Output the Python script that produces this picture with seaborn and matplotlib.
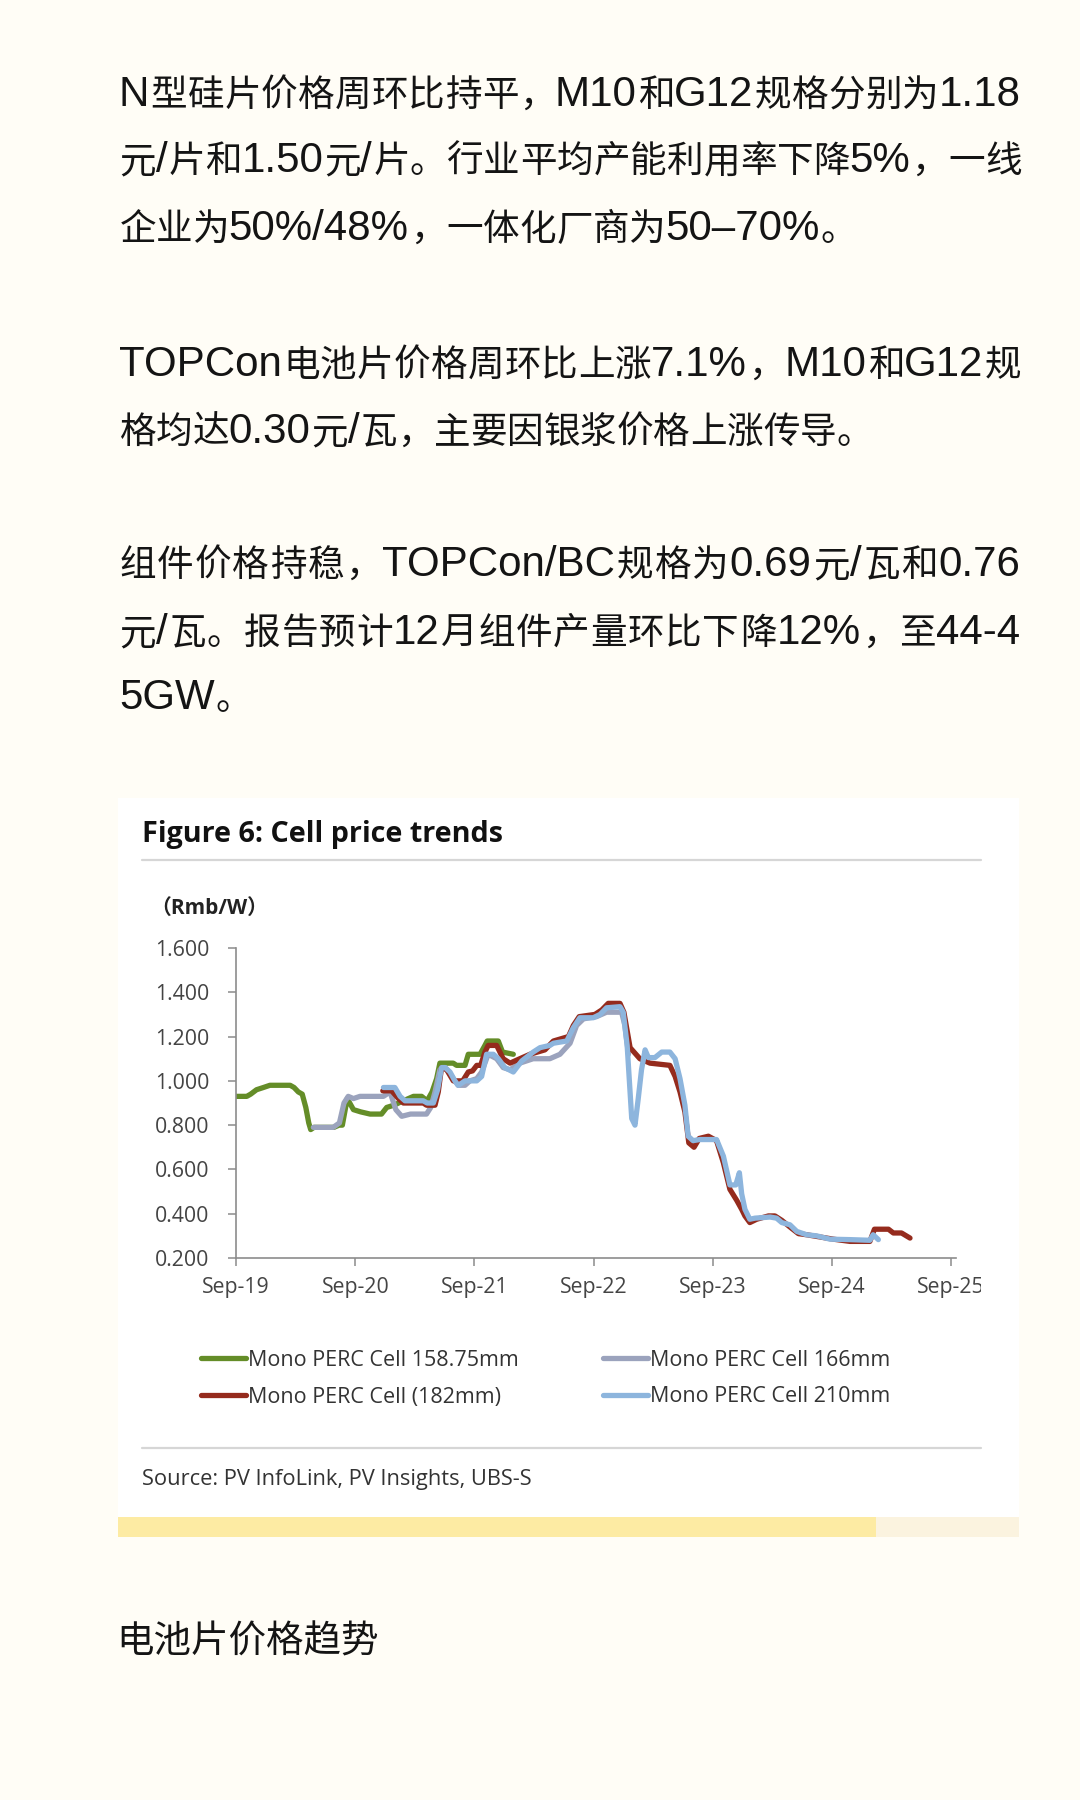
import numpy as np
import pandas as pd
import matplotlib
matplotlib.use("Agg")
import matplotlib.pyplot as plt
import matplotlib.dates as mdates
from matplotlib.patches import Rectangle
from matplotlib.lines import Line2D
from matplotlib.ticker import FormatStrFormatter
from matplotlib.transforms import Bbox, TransformedBbox
import seaborn as sns

# ---- article text (one entry per rendered line)
body_lines = [
    "N型硅片价格周环比持平，M10和G12规格分别为1.18",
    "元/片和1.50元/片。行业平均产能利用率下降5%，一线",
    "企业为50%/48%，一体化厂商为50–70%。",
    "TOPCon电池片价格周环比上涨7.1%，M10和G12规",
    "格均达0.30元/瓦，主要因银浆价格上涨传导。",
    "组件价格持稳，TOPCon/BC规格为0.69元/瓦和0.76",
    "元/瓦。报告预计12月组件产量环比下降12%，至44-4",
    "5GW。",
]
para_last = [False, False, True, False, True, False, False, True]
heading = "电池片价格趋势"
chart_title = "Figure 6: Cell price trends"
unit_label = "（Rmb/W）"
source_text = "Source: PV InfoLink, PV Insights, UBS-S"

# ---- series (Rmb/W)
green_dates = ["2019-09-01", "2019-10-04", "2019-10-16", "2019-11-03", "2019-11-24", "2019-12-14",
               "2020-02-14", "2020-02-26", "2020-03-10", "2020-03-22", "2020-04-02", "2020-04-11",
               "2020-04-17", "2020-04-27", "2020-06-27", "2020-07-13", "2020-07-23", "2020-08-07",
               "2020-08-26", "2020-09-17", "2020-10-16", "2020-11-20", "2020-12-06", "2020-12-28",
               "2021-01-26", "2021-02-26", "2021-03-23", "2021-04-09", "2021-04-24", "2021-05-08",
               "2021-05-18", "2021-06-28", "2021-07-08", "2021-08-03", "2021-08-13", "2021-09-18",
               "2021-10-03", "2021-10-10", "2021-11-13", "2021-11-26", "2021-12-29"]
green_vals = [0.93, 0.93, 0.94, 0.96, 0.97, 0.98,
              0.98, 0.97, 0.95, 0.94, 0.88, 0.81,
              0.78, 0.79, 0.79, 0.80, 0.80, 0.92,
              0.87, 0.86, 0.85, 0.85, 0.88, 0.89,
              0.91, 0.93, 0.93, 0.91, 0.95, 1.01,
              1.08, 1.08, 1.07, 1.07, 1.12, 1.12,
              1.16, 1.18, 1.18, 1.13, 1.12]

gray_dates = ["2020-04-25", "2020-06-25", "2020-07-14", "2020-07-28", "2020-08-10", "2020-08-26",
              "2020-09-15", "2020-11-26", "2020-12-16", "2021-01-03", "2021-01-21", "2021-02-17",
              "2021-04-07", "2021-04-20", "2021-05-03", "2021-05-18", "2021-06-03", "2021-06-23",
              "2021-07-13", "2021-08-03", "2021-08-18", "2021-09-08", "2021-09-23", "2021-10-13",
              "2021-11-08", "2021-11-28", "2021-12-19", "2022-01-18", "2022-02-28", "2022-04-20",
              "2022-05-21", "2022-06-21", "2022-07-11", "2022-08-01", "2022-09-10", "2022-10-11",
              "2022-11-26", "2022-12-06", "2022-12-17"]
gray_vals = [0.79, 0.79, 0.81, 0.90, 0.93, 0.92,
             0.93, 0.93, 0.95, 0.87, 0.84, 0.85,
             0.85, 0.88, 0.95, 1.05, 1.06, 1.02,
             0.98, 0.98, 1.00, 1.01, 1.04, 1.12,
             1.10, 1.06, 1.05, 1.08, 1.10, 1.10,
             1.12, 1.17, 1.25, 1.28, 1.29, 1.31,
             1.31, 1.25, 1.12]

red_dates = ["2020-11-24", "2020-12-21", "2021-01-11", "2021-01-26", "2021-03-28", "2021-04-07",
             "2021-05-03", "2021-05-13", "2021-05-23", "2021-06-08", "2021-06-28", "2021-07-27",
             "2021-08-13", "2021-08-26", "2021-09-08", "2021-09-20", "2021-10-03", "2021-10-13",
             "2021-11-08", "2021-11-28", "2021-12-19", "2022-01-18", "2022-02-18", "2022-04-05",
             "2022-05-01", "2022-06-16", "2022-07-01", "2022-07-19", "2022-09-05", "2022-09-26",
             "2022-10-16", "2022-11-21", "2022-12-03", "2022-12-22", "2023-01-21", "2023-02-21",
             "2023-04-23", "2023-05-09", "2023-05-24", "2023-06-08", "2023-06-20", "2023-07-06",
             "2023-07-22", "2023-08-19", "2023-09-13", "2023-10-04", "2023-10-24", "2023-11-14",
             "2023-11-29", "2023-12-09", "2023-12-24", "2024-01-14", "2024-02-19", "2024-03-10",
             "2024-03-31", "2024-04-25", "2024-05-21", "2024-06-15", "2024-07-26", "2024-09-05",
             "2024-10-26", "2024-12-26", "2025-01-09", "2025-02-21", "2025-03-08", "2025-04-02",
             "2025-04-28"]
red_vals = [0.955, 0.955, 0.92, 0.90, 0.90, 0.89,
            0.89, 0.95, 1.06, 1.05, 1.00, 1.00,
            1.04, 1.045, 1.07, 1.07, 1.13, 1.16,
            1.16, 1.10, 1.08, 1.10, 1.12, 1.14,
            1.18, 1.20, 1.25, 1.29, 1.30, 1.32,
            1.35, 1.35, 1.31, 1.15, 1.10, 1.08,
            1.07, 1.02, 0.95, 0.86, 0.72, 0.70,
            0.74, 0.75, 0.73, 0.63, 0.51, 0.46,
            0.42, 0.39, 0.36, 0.375, 0.39, 0.39,
            0.37, 0.34, 0.31, 0.305, 0.295, 0.285,
            0.275, 0.275, 0.33, 0.33, 0.313, 0.313,
            0.29]

blue_dates = ["2020-11-26", "2020-12-31", "2021-01-16", "2021-01-31", "2021-03-28", "2021-04-09",
              "2021-04-28", "2021-05-11", "2021-05-23", "2021-06-03", "2021-06-18", "2021-07-03",
              "2021-07-13", "2021-07-24", "2021-08-03", "2021-09-08", "2021-09-23", "2021-10-08",
              "2021-10-29", "2021-11-13", "2021-12-03", "2021-12-29", "2022-01-24", "2022-02-28",
              "2022-03-21", "2022-04-20", "2022-05-01", "2022-06-11", "2022-07-01", "2022-07-21",
              "2022-08-31", "2022-09-21", "2022-10-11", "2022-11-21", "2022-12-01", "2022-12-13",
              "2022-12-27", "2023-01-06", "2023-01-16", "2023-01-26", "2023-02-06", "2023-02-16",
              "2023-03-08", "2023-03-29", "2023-04-23", "2023-05-09", "2023-05-24", "2023-06-08",
              "2023-06-18", "2023-07-03", "2023-07-24", "2023-09-13", "2023-10-04", "2023-10-24",
              "2023-11-11", "2023-11-22", "2023-11-29", "2023-12-09", "2023-12-24", "2024-01-09",
              "2024-02-24", "2024-03-15", "2024-03-31", "2024-04-25", "2024-05-16", "2024-06-15",
              "2024-07-16", "2024-08-26", "2024-10-26", "2024-12-26", "2025-01-05", "2025-01-21"]
blue_vals = [0.97, 0.97, 0.93, 0.91, 0.91, 0.90,
             0.90, 0.96, 1.06, 1.06, 1.04, 1.00,
             0.98, 0.99, 1.00, 1.00, 1.02, 1.12,
             1.12, 1.10, 1.06, 1.04, 1.09, 1.13,
             1.15, 1.16, 1.17, 1.18, 1.24, 1.285,
             1.285, 1.30, 1.33, 1.335, 1.31, 1.16,
             0.83, 0.80, 0.92, 1.05, 1.14, 1.105,
             1.105, 1.13, 1.13, 1.10, 1.01, 0.89,
             0.75, 0.73, 0.735, 0.735, 0.66, 0.53,
             0.53, 0.585, 0.49, 0.42, 0.375, 0.38,
             0.385, 0.38, 0.36, 0.35, 0.32, 0.305,
             0.30, 0.285, 0.283, 0.28, 0.305, 0.283]

series_names = ["Mono PERC Cell 158.75mm", "Mono PERC Cell 166mm",
                "Mono PERC Cell (182mm)", "Mono PERC Cell 210mm"]
series_colors = ["#648d28", "#9ba3bd", "#952b1d", "#8db5dd"]
year_ticks = ["2019-09-01", "2020-09-01", "2021-09-01", "2022-09-01",
              "2023-09-01", "2024-09-01", "2025-09-01"]
y_ticks = [0.2, 0.4, 0.6, 0.8, 1.0, 1.2, 1.4, 1.6]

W, H = 1080, 1800
def fx(px):
    return px / W
def fy(py):
    return 1 - py / H

sns.set_style("white")
CJK_FONT = ["Noto Sans CJK SC", "DejaVu Sans"]
LAT_FONT = ["Liberation Sans", "DejaVu Sans"]
CHART_FONT = ["Open Sans", "Noto Sans CJK SC", "DejaVu Sans"]
plt.rcParams["font.family"] = CHART_FONT

frames = []
for name, d, v in zip(series_names,
                      [green_dates, gray_dates, red_dates, blue_dates],
                      [green_vals, gray_vals, red_vals, blue_vals]):
    frames.append(pd.DataFrame({"date": pd.to_datetime(d), "price": v, "series": name}))
df = pd.concat(frames, ignore_index=True)

fig = plt.figure(figsize=(W / 100, H / 100), dpi=100)
fig.patch.set_facecolor("#fffdf6")
renderer = fig.canvas.get_renderer()

# card + bottom bar
fig.add_artist(Rectangle((fx(118), fy(1517)), (1019 - 118) / W, (1517 - 798) / H,
                         transform=fig.transFigure, facecolor="white", edgecolor="none", zorder=-2))
fig.add_artist(Rectangle((fx(118), fy(1537)), (876 - 118) / W, 20 / H,
                         transform=fig.transFigure, facecolor="#fdeba3", edgecolor="none", zorder=-2))
fig.add_artist(Rectangle((fx(876), fy(1537)), (1019 - 876) / W, 20 / H,
                         transform=fig.transFigure, facecolor="#fbf3df", edgecolor="none", zorder=-2))
for yy in (860, 1448):
    fig.add_artist(Line2D([fx(142), fx(981)], [fy(yy), fy(yy)], transform=fig.transFigure,
                          color="#d6d6d6", lw=1.6))

# ---- article text: CJK and Latin runs laid out separately, justified lines
CJK_PX = 36.6
CJK_PT = CJK_PX * 72 / 100
LAT_PT = 42.0 * 72 / 100
TEXT_LEFT, TEXT_RIGHT = 118, 1020

def is_cjk(ch):
    return ord(ch) >= 0x2E80

def tokens(line):
    out = []
    for ch in line:
        if is_cjk(ch) or not out or is_cjk(out[-1][0]):
            out.append(ch)
        else:
            out[-1] += ch
    return out

def draw_line(line, baseline, justify):
    toks = tokens(line)
    widths = []
    for t in toks:
        if is_cjk(t[0]):
            widths.append(CJK_PX)
        else:
            probe = fig.text(0, 0, t, fontsize=LAT_PT, family=LAT_FONT)
            widths.append(probe.get_window_extent(renderer).width + 0.5)
            probe.remove()
    gap = 0
    if justify and len(toks) > 1:
        gap = (TEXT_RIGHT - TEXT_LEFT - sum(widths)) / (len(toks) - 1)
    x = TEXT_LEFT
    for t, w in zip(toks, widths):
        if is_cjk(t[0]):
            fig.text(fx(x + 1.5), fy(baseline), t, fontsize=CJK_PT, family=CJK_FONT,
                     color="#141414", ha="left", va="baseline")
        else:
            fig.text(fx(x + 1), fy(baseline), t, fontsize=LAT_PT, family=LAT_FONT,
                     color="#141414", ha="left", va="baseline")
        x += w + gap

line_base = [106, 172, 240, 376, 443, 576, 644, 709]
for txt, yb, last in zip(body_lines, line_base, para_last):
    draw_line(txt, yb, not last)

fig.text(fx(116), fy(1642), heading, fontsize=27, family=CJK_FONT, color="#141414",
         ha="left", va="center")

# ---- chart
fig.text(fx(142), fy(834), chart_title, fontsize=20.7, weight="bold", color="#111111",
         ha="left", va="center")
fig.text(fx(150), fy(908), unit_label, fontsize=15, weight="bold", color="#222222",
         ha="left", va="center")
fig.text(fx(142), fy(1479), source_text, fontsize=15.75, color="#333333",
         ha="left", va="center")

ax = fig.add_axes([fx(236), fy(1258), 720 / W, 310 / H])
ax.set_facecolor("none")
sns.lineplot(data=df, x="date", y="price", hue="series", hue_order=series_names,
             palette=series_colors, estimator=None, sort=True, linewidth=3.8,
             legend=False, ax=ax, solid_joinstyle="round", solid_capstyle="round")

ax.set_ylim(0.2, 1.6)
ax.set_xlim(pd.Timestamp("2019-09-01"), pd.Timestamp("2025-09-16"))
ax.set_yticks(y_ticks)
ax.yaxis.set_major_formatter(FormatStrFormatter("%.3f"))
ax.set_xticks(pd.to_datetime(year_ticks))
ax.xaxis.set_major_formatter(mdates.DateFormatter("%b-%y"))
ax.set_xlabel("")
ax.set_ylabel("")
for s in ("top", "right"):
    ax.spines[s].set_visible(False)
for s in ("left", "bottom"):
    ax.spines[s].set_color("#8c8c8c")
    ax.spines[s].set_linewidth(1.2)
ax.tick_params(axis="both", direction="out", length=5.5, width=1.1, color="#8c8c8c",
               labelsize=15.3, labelcolor="#444444")
ax.tick_params(axis="y", pad=13.5, left=True)
ax.tick_params(axis="x", pad=8.5, bottom=True)

# legend: green/red in first column, gray/blue in second
order = [0, 2, 1, 3]
handles = [Line2D([], [], color=series_colors[i], lw=3.8) for i in order]
labels = [series_names[i] for i in order]
ax.legend(handles, labels, ncol=2, loc="upper left", bbox_to_anchor=(fx(201), fy(1350)),
          bbox_transform=fig.transFigure, frameon=False, fontsize=15.5,
          handlelength=2.1, handletextpad=0.1, columnspacing=3.9, labelspacing=0.72,
          borderpad=0, borderaxespad=0, labelcolor="#333333")

# last tick label is cut by the image edge in the source
fig.canvas.draw()
clip = TransformedBbox(Bbox.from_extents(0, 0, fx(981), 1), fig.transFigure)
last = ax.xaxis.get_major_ticks()[-1].label1
last.set_clip_on(True)
last.set_clip_box(clip)

fig.savefig("out.png", dpi=100, facecolor=fig.get_facecolor())
